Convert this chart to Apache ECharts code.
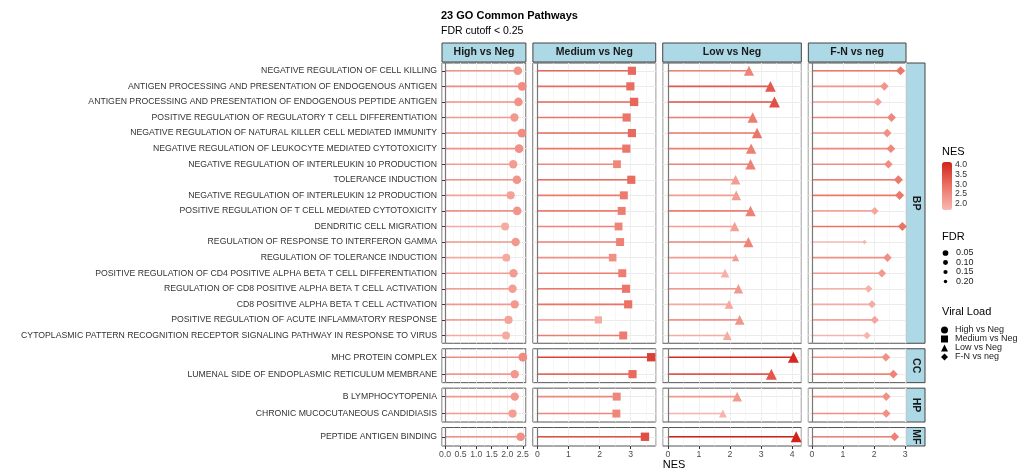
<!DOCTYPE html>
<html>
<head>
<meta charset="utf-8">
<script src="https://cdn.jsdelivr.net/npm/echarts@6/dist/echarts.min.js"></script>
<style>
  html, body { margin: 0; padding: 0; background: #fff; }
  #chart { width: 1018px; height: 470px; }
</style>
</head>
<body>
<div id="chart"></div>
<script>
// ---- data ----
const comparisons = ["High vs Neg", "Medium vs Neg", "Low vs Neg", "F-N vs neg"];
const ontologies = ["BP", "CC", "HP", "MF"];

const termsBP = [
  "NEGATIVE REGULATION OF CELL KILLING",
  "ANTIGEN PROCESSING AND PRESENTATION OF ENDOGENOUS ANTIGEN",
  "ANTIGEN PROCESSING AND PRESENTATION OF ENDOGENOUS PEPTIDE ANTIGEN",
  "POSITIVE REGULATION OF REGULATORY T CELL DIFFERENTIATION",
  "NEGATIVE REGULATION OF NATURAL KILLER CELL MEDIATED IMMUNITY",
  "NEGATIVE REGULATION OF LEUKOCYTE MEDIATED CYTOTOXICITY",
  "NEGATIVE REGULATION OF INTERLEUKIN 10 PRODUCTION",
  "TOLERANCE INDUCTION",
  "NEGATIVE REGULATION OF INTERLEUKIN 12 PRODUCTION",
  "POSITIVE REGULATION OF T CELL MEDIATED CYTOTOXICITY",
  "DENDRITIC CELL MIGRATION",
  "REGULATION OF RESPONSE TO INTERFERON GAMMA",
  "REGULATION OF TOLERANCE INDUCTION",
  "POSITIVE REGULATION OF CD4 POSITIVE ALPHA BETA T CELL DIFFERENTIATION",
  "REGULATION OF CD8 POSITIVE ALPHA BETA T CELL ACTIVATION",
  "CD8 POSITIVE ALPHA BETA T CELL ACTIVATION",
  "POSITIVE REGULATION OF ACUTE INFLAMMATORY RESPONSE",
  "CYTOPLASMIC PATTERN RECOGNITION RECEPTOR SIGNALING PATHWAY IN RESPONSE TO VIRUS"
];
const termsCC = ["MHC PROTEIN COMPLEX", "LUMENAL SIDE OF ENDOPLASMIC RETICULUM MEMBRANE"];
const termsHP = ["B LYMPHOCYTOPENIA", "CHRONIC MUCOCUTANEOUS CANDIDIASIS"];
const termsMF = ["PEPTIDE ANTIGEN BINDING"];

// values follow the term order: 18 BP, 2 CC, 2 HP, 1 MF
const nesHigh   = [2.34, 2.48, 2.36, 2.23, 2.47, 2.38, 2.19, 2.31, 2.11, 2.32, 1.93, 2.27, 1.97, 2.20, 2.17, 2.24, 2.04, 1.96, 2.50, 2.24, 2.24, 2.17, 2.43];
const nesMedium = [3.04, 2.99, 3.11, 2.87, 3.04, 2.86, 2.56, 3.02, 2.78, 2.71, 2.61, 2.66, 2.42, 2.73, 2.85, 2.92, 1.96, 2.76, 3.66, 3.06, 2.55, 2.54, 3.46];
const nesLow    = [2.61, 3.30, 3.43, 2.73, 2.87, 2.68, 2.66, 2.18, 2.20, 2.66, 2.15, 2.59, 2.18, 1.84, 2.27, 1.97, 2.31, 1.91, 4.04, 3.33, 2.23, 1.77, 4.13];
const nesFN     = [2.85, 2.33, 2.12, 2.56, 2.42, 2.54, 2.46, 2.78, 2.82, 2.02, 2.91, 1.69, 2.43, 2.25, 1.82, 1.93, 2.02, 1.77, 2.38, 2.62, 2.39, 2.39, 2.66];

const fdrHigh   = [0.02, 0.01, 0.02, 0.03, 0.01, 0.02, 0.03, 0.02, 0.04, 0.02, 0.05, 0.03, 0.05, 0.03, 0.03, 0.03, 0.04, 0.05, 0.01, 0.03, 0.03, 0.04, 0.02];
const fdrMedium = [0.01, 0.01, 0.00, 0.01, 0.01, 0.01, 0.03, 0.01, 0.02, 0.02, 0.03, 0.02, 0.04, 0.02, 0.01, 0.01, 0.06, 0.02, 0.00, 0.01, 0.02, 0.02, 0.00];
const fdrLow    = [0.03, 0.01, 0.00, 0.02, 0.02, 0.02, 0.02, 0.05, 0.05, 0.02, 0.06, 0.03, 0.14, 0.09, 0.06, 0.08, 0.05, 0.08, 0.00, 0.00, 0.05, 0.12, 0.00];
const fdrFN     = [0.02, 0.04, 0.06, 0.03, 0.04, 0.03, 0.04, 0.02, 0.02, 0.07, 0.02, 0.22, 0.04, 0.05, 0.08, 0.07, 0.06, 0.09, 0.04, 0.03, 0.04, 0.04, 0.03];

const colorTicks = [4.0, 3.5, 3.0, 2.5, 2.0];
const fdrTicks = [0.05, 0.10, 0.15, 0.20];

// ---- layout ----
const FONT = "'Liberation Sans', Arial, Helvetica, sans-serif";
const termsByOntology = [termsBP, termsCC, termsHP, termsMF];
const nesByComparison = [nesHigh, nesMedium, nesLow, nesFN];
const fdrByComparison = [fdrHigh, fdrMedium, fdrLow, fdrFN];
const shapes = ["circle", "rect", "triangle", "diamond"];
const shapeScale = [0.95, 0.88, 1.15, 1.0];
const colStep = [0.5, 1, 1, 1];
const nesColors = ["#F8B9B0", "#EB7366", "#D3221A"];

const plotLeft = 442, plotRight = 906, plotTop = 63, plotBottom = 446;
const gapX = 7, gapY = 5.5;

function fdrSize(f) { return 9.5 - 22 * f; }

const colMin = [], colMax = [];
nesByComparison.forEach(arr => {
  const m = Math.max(...arr);
  colMin.push(-m * 0.04);
  colMax.push(m * 1.04);
});
let totalRange = 0;
colMin.forEach((v, i) => { totalRange += colMax[i] - v; });
const pxPerNes = (plotRight - plotLeft - gapX * 3) / totalRange;
const colLeft = [], colWidth = [];
let cx = plotLeft;
for (let c = 0; c < 4; c++) {
  const w = (colMax[c] - colMin[c]) * pxPerNes;
  colLeft.push(cx); colWidth.push(w);
  cx += w + gapX;
}

const rowUnits = termsByOntology.map(t => t.length + 0.2);
const pxPerRow = (plotBottom - plotTop - gapY * 3) / rowUnits.reduce((a, b) => a + b, 0);
const rowTop = [], rowHeight = [];
let cy = plotTop;
for (let r = 0; r < 4; r++) {
  const h = rowUnits[r] * pxPerRow;
  rowTop.push(cy); rowHeight.push(h);
  cy += h + gapY;
}

const allNes = [].concat(...nesByComparison);
const nesMin = Math.min(...allNes), nesMax = Math.max(...allNes);

// ---- build grids / axes / series ----
const grids = [], xAxes = [], yAxes = [], series = [];
let offset = 0;
for (let r = 0; r < 4; r++) {
  const terms = termsByOntology[r];
  const bottomRow = r === 3;
  for (let c = 0; c < 4; c++) {
    const g = r * 4 + c;
    grids.push({
      left: colLeft[c], top: rowTop[r], width: colWidth[c], height: rowHeight[r],
      show: true, backgroundColor: "#fff", borderColor: "#555", borderWidth: 1
    });
    const ticks = [];
    for (let v = 0; v <= colMax[c] + 1e-9; v += colStep[c]) ticks.push(+v.toFixed(2));
    xAxes.push({
      type: "value", gridIndex: g, min: colMin[c], max: colMax[c],
      minInterval: colStep[c], maxInterval: colStep[c],
      axisLine: { show: false },
      axisTick: { show: bottomRow, length: 3, customValues: ticks, lineStyle: { color: "#333" } },
      axisLabel: {
        show: bottomRow, customValues: ticks,
        fontSize: 8.7, color: "#4D4D4D", margin: 4, fontFamily: FONT,
        formatter: v => c === 0 ? v.toFixed(1) : String(Math.round(v))
      },
      splitLine: { show: true, lineStyle: { color: "#EBEBEB", width: 1 } }
    });
    xAxes.push({
      type: "value", gridIndex: g, min: colMin[c], max: colMax[c],
      minInterval: colStep[c] / 2, maxInterval: colStep[c] / 2,
      axisLine: { show: false }, axisTick: { show: false }, axisLabel: { show: false },
      splitLine: { show: true, lineStyle: { color: "#F2F2F2", width: 0.6 } }
    });
    yAxes.push({
      type: "category", gridIndex: g, data: terms, inverse: true,
      axisLine: { show: false },
      axisTick: { show: c === 0, length: 3, alignWithLabel: true, interval: 0, lineStyle: { color: "#333" } },
      axisLabel: { show: c === 0, interval: 0, fontSize: 8.7, color: "#333", margin: 5, fontFamily: FONT },
      splitLine: { show: true, interval: 0, alignWithLabel: true, lineStyle: { color: "#EBEBEB", width: 1 } }
    });
    const nes = nesByComparison[c], fdr = fdrByComparison[c];
    const pts = terms.map((t, i) => [nes[offset + i], t, fdr[offset + i]]);
    series.push({
      type: "bar", name: "stem", xAxisIndex: 2 * g, yAxisIndex: g,
      data: pts, encode: { x: 0, y: 1 }, barWidth: 1.6, z: 2, silent: true,
      markLine: {
        silent: true, symbol: ["none", "none"], label: { show: false },
        lineStyle: { color: "#777", width: 1.2, type: "solid" },
        data: [{ xAxis: 0 }]
      }
    });
    series.push({
      type: "scatter", name: comparisons[c], xAxisIndex: 2 * g, yAxisIndex: g,
      data: pts, encode: { x: 0, y: 1 }, symbol: shapes[c], z: 3, silent: true,
      symbolSize: v => fdrSize(v[2]) * shapeScale[c],
      itemStyle: { opacity: 1 }
    });
  }
  offset += terms.length;
}

// ---- strips, legends, labels ----
const graphics = [];
for (let c = 0; c < 4; c++) {
  graphics.push({
    type: "rect", shape: { x: colLeft[c], y: 43, width: colWidth[c], height: 19 },
    style: { fill: "#ADD8E6", stroke: "#444", lineWidth: 1 }
  });
  graphics.push({
    type: "text", x: colLeft[c] + colWidth[c] / 2, y: 52.5,
    style: { text: comparisons[c], fill: "#1A1A1A", font: "bold 10.5px " + FONT, textAlign: "center", verticalAlign: "middle" }
  });
}
for (let r = 0; r < 4; r++) {
  graphics.push({
    type: "rect", shape: { x: plotRight, y: rowTop[r], width: 19, height: rowHeight[r] },
    style: { fill: "#ADD8E6", stroke: "#444", lineWidth: 1 }
  });
  graphics.push({
    type: "text", x: plotRight + 9.5, y: rowTop[r] + rowHeight[r] / 2, rotation: -Math.PI / 2,
    style: { text: ontologies[r], fill: "#1A1A1A", font: "bold 10.5px " + FONT, textAlign: "center", verticalAlign: "middle" }
  });
}
graphics.push({
  type: "text", x: (plotLeft + plotRight) / 2, y: 465,
  style: { text: "NES", fill: "#000", font: "11px " + FONT, textAlign: "center", verticalAlign: "middle" }
});

const legendX = 942;
const cbTop = 162, cbHeight = 48;
graphics.push({ type: "text", x: legendX, y: 152, style: { text: "NES", fill: "#000", font: "11px " + FONT, verticalAlign: "middle" } });
colorTicks.forEach(v => {
  graphics.push({
    type: "text", x: 955, y: cbTop + (nesMax - v) / (nesMax - nesMin) * cbHeight,
    style: { text: v.toFixed(1), fill: "#333", font: "8.7px " + FONT, verticalAlign: "middle" }
  });
});
graphics.push({ type: "text", x: legendX, y: 237, style: { text: "FDR", fill: "#000", font: "11px " + FONT, verticalAlign: "middle" } });
fdrTicks.forEach((v, i) => {
  const y = 253 + i * 9.5;
  graphics.push({ type: "circle", shape: { cx: 945.5, cy: y, r: fdrSize(v) * 0.34 }, style: { fill: "#000" } });
  graphics.push({ type: "text", x: 956, y: y, style: { text: v.toFixed(2), fill: "#222", font: "9px " + FONT, verticalAlign: "middle" } });
});
graphics.push({ type: "text", x: legendX, y: 311.5, style: { text: "Viral Load", fill: "#000", font: "11px " + FONT, verticalAlign: "middle" } });

const chart = echarts.init(document.getElementById("chart"));
chart.setOption({
  animation: false,
  backgroundColor: "#fff",
  textStyle: { fontFamily: FONT },
  title: {
    text: "23 GO Common Pathways", subtext: "FDR cutoff < 0.25",
    left: 441, top: 10, padding: 0, itemGap: 5,
    textStyle: { fontSize: 11, fontWeight: "bold", color: "#000", fontFamily: FONT },
    subtextStyle: { fontSize: 10.5, color: "#000", fontFamily: FONT }
  },
  legend: {
    orient: "vertical", left: 941, top: 325.5, padding: 0,
    itemWidth: 7, itemHeight: 7, itemGap: 0,
    selectedMode: false,
    textStyle: { fontSize: 9, color: "#222", lineHeight: 8.3, fontFamily: FONT, padding: [0, 0, 0, 2] },
    data: comparisons.map((n, i) => ({ name: n, icon: shapes[i], itemStyle: { color: "#000", opacity: 1 } }))
  },
  visualMap: {
    type: "continuous", min: nesMin, max: nesMax, dimension: 0,
    seriesIndex: series.map((s, i) => i),
    inRange: { color: nesColors },
    left: legendX, top: cbTop, itemWidth: 10, itemHeight: cbHeight,
    calculable: false, hoverLink: false, padding: 0
  },
  grid: grids,
  xAxis: xAxes,
  yAxis: yAxes,
  series: series,
  graphic: graphics
});
</script>
</body>
</html>
